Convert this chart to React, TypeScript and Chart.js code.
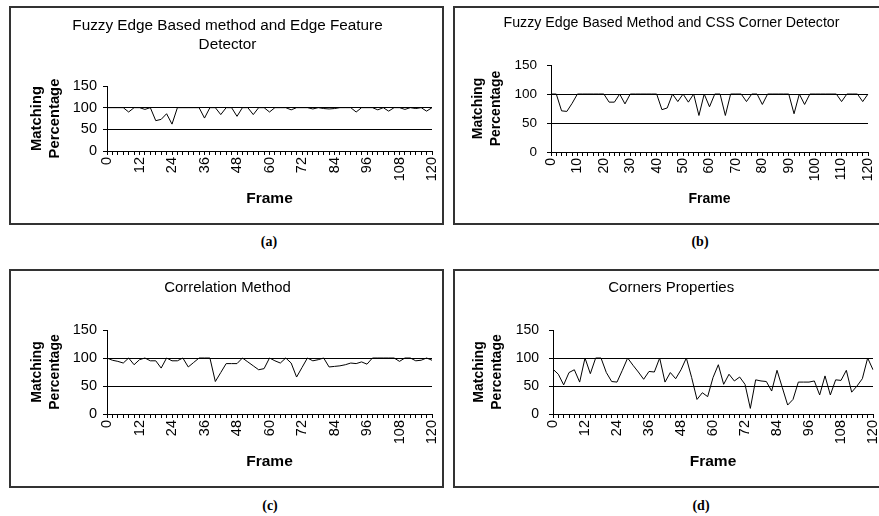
import React, { useEffect, useRef } from 'react';
import { Chart, registerables } from 'chart.js';

Chart.register(...registerables);

// Frame categories (every 2nd frame)
const frames = [
  0, 2, 4, 6, 8, 10, 12, 14, 16, 18, 20, 22, 24, 26, 28, 30, 32, 34, 36, 38,
  40, 42, 44, 46, 48, 50, 52, 54, 56, 58, 60, 62, 64, 66, 68, 70, 72, 74, 76, 78,
  80, 82, 84, 86, 88, 90, 92, 94, 96, 98, 100, 102, 104, 106, 108, 110, 112, 114, 116, 118,
  120,
];

// (a) Fuzzy Edge Based method and Edge Feature Detector
const fuzzyEdgeFeature = [
  100, 100, 100, 100, 90, 100, 100, 96, 100, 70,
  73, 86, 62, 100, 100, 100, 100, 100, 76, 100,
  100, 84, 100, 100, 80, 100, 100, 84, 100, 100,
  90, 100, 100, 100, 95, 100, 100, 100, 97, 100,
  98, 97, 98, 100, 100, 100, 90, 100, 100, 100,
  95, 100, 92, 100, 100, 96, 100, 98, 100, 92,
  100,
];

// (b) Fuzzy Edge Based Method and CSS Corner Detector
const fuzzyCssCorner = [
  100, 100, 71, 70, 84, 100, 100, 100, 100, 100,
  100, 86, 86, 100, 83, 100, 100, 100, 100, 100,
  100, 73, 76, 100, 87, 100, 86, 100, 63, 100,
  78, 100, 100, 63, 100, 100, 100, 87, 100, 100,
  82, 100, 100, 100, 100, 100, 66, 100, 82, 100,
  100, 100, 100, 100, 100, 87, 100, 100, 100, 87,
  100,
];

// (c) Correlation Method
const correlationMethod = [
  100, 96, 94, 91, 100, 88, 97, 100, 95, 95,
  82, 100, 95, 95, 100, 84, 92, 100, 100, 100,
  58, 74, 90, 90, 90, 100, 93, 86, 79, 81,
  100, 95, 91, 100, 91, 66, 83, 100, 95, 97,
  100, 84, 85, 86, 88, 91, 90, 93, 89, 100,
  100, 100, 100, 100, 94, 100, 100, 95, 96, 100,
  96,
];

// (d) Corners Properties
const cornersProperties = [
  80, 71, 52, 74, 79, 57, 100, 72, 100, 100,
  74, 58, 57, 78, 100, 87, 75, 62, 76, 75,
  100, 57, 74, 63, 79, 100, 65, 26, 38, 31,
  65, 88, 53, 71, 59, 66, 53, 10, 61, 59,
  58, 41, 78, 47, 16, 26, 57, 57, 57, 59,
  34, 68, 34, 61, 60, 78, 39, 50, 63, 100,
  79,
];

const yMin = 0;
const yMax = 150;
const yStep = 50;
const gridValues = [50, 100];
const yAxisTitle = ['Matching', 'Percentage'];
const xAxisTitle = 'Frame';

const FAMILY = '"Liberation Sans", Arial, sans-serif';

type Spec = {
  left: number;
  top: number;
  values: number[];
  title: string | string[];
  caption: string;
  capX: number;
  capY: number;
  padL: number;
  padR: number;
  yWidth: number;
  xHeight: number;
  titleSize: number;
  titleLH: number;
  titlePT: number;
  titlePB: number;
  yTitleSize: number;
  yTitleLH: number;
  yTitlePT: number;
  yTickPad: number;
  yTickSize: number;
  xTickSize: number;
  xTitleSize: number;
  xTitlePB: number;
  labelEvery: number;
};

const specs: Spec[] = [
  {
    left: 9, top: 6, values: fuzzyEdgeFeature,
    title: ['Fuzzy Edge Based method and Edge Feature', 'Detector'],
    caption: '(a)', capX: 269, capY: 242,
    padL: 12, padR: 10, yWidth: 84, xHeight: 72,
    titleSize: 15.3, titleLH: 19 / 15.3, titlePT: 8.5, titlePB: 31.5,
    yTitleSize: 14.8, yTitleLH: 18 / 14.8, yTitlePT: 5,
    yTickPad: 6, yTickSize: 14.5, xTickSize: 14.5,
    xTitleSize: 15.5, xTitlePB: 14.7, labelEvery: 12,
  },
  {
    left: 453, top: 6, values: fuzzyCssCorner,
    title: 'Fuzzy Edge Based Method and CSS Corner Detector',
    caption: '(b)', capX: 700, capY: 242,
    padL: 20, padR: 18, yWidth: 76, xHeight: 71,
    titleSize: 14.2, titleLH: 1.2, titlePT: 6.5, titlePB: 33.5,
    yTitleSize: 14, yTitleLH: 18 / 14, yTitlePT: -6,
    yTickPad: 10, yTickSize: 13.5, xTickSize: 14,
    xTitleSize: 14, xTitlePB: 15.6, labelEvery: 10,
  },
  {
    left: 9, top: 269, values: correlationMethod,
    title: 'Correlation Method',
    caption: '(c)', capX: 270, capY: 506,
    padL: 12, padR: 10, yWidth: 84, xHeight: 72,
    titleSize: 14.9, titleLH: 1.2, titlePT: 8.06, titlePB: 33.06,
    yTitleSize: 14, yTitleLH: 18 / 14, yTitlePT: 5,
    yTickPad: 6, yTickSize: 14.5, xTickSize: 14.5,
    xTitleSize: 15.5, xTitlePB: 14.7, labelEvery: 12,
  },
  {
    left: 453, top: 269, values: cornersProperties,
    title: 'Corners Properties',
    caption: '(d)', capX: 701, capY: 506,
    padL: 14.4, padR: 13, yWidth: 83.6, xHeight: 72,
    titleSize: 15, titleLH: 1.2, titlePT: 8, titlePB: 33,
    yTitleSize: 14, yTitleLH: 18 / 14, yTitlePT: 0.6,
    yTickPad: 10, yTickSize: 14, xTickSize: 14.5,
    xTitleSize: 15.5, xTitlePB: 14.7, labelEvery: 12,
  },
];

const W = 431;
const H = 215;

function Panel({ spec }: { spec: Spec }) {
  const ref = useRef<HTMLCanvasElement>(null);
  useEffect(() => {
    const chart = new Chart(ref.current as HTMLCanvasElement, {
      type: 'line',
      data: {
        labels: frames,
        datasets: [
          {
            data: spec.values,
            borderColor: '#000',
            borderWidth: 1,
            pointRadius: 0,
            fill: false,
            tension: 0,
          },
        ],
      },
      options: {
        responsive: false,
        animation: false,
        devicePixelRatio: 1,
        layout: { padding: { left: spec.padL, right: spec.padR, top: 0, bottom: 0 } },
        plugins: {
          legend: { display: false },
          tooltip: { enabled: false },
          title: {
            display: true,
            text: spec.title,
            color: '#000',
            font: { family: FAMILY, size: spec.titleSize, weight: 'normal', lineHeight: spec.titleLH },
            padding: { top: spec.titlePT, bottom: spec.titlePB },
          },
        },
        scales: {
          x: {
            type: 'category',
            offset: false,
            grid: {
              drawOnChartArea: false,
              drawTicks: true,
              tickLength: 4,
              tickColor: '#000',
              color: '#000',
              lineWidth: 1,
            },
            border: { display: true, color: '#000', width: 1 },
            ticks: {
              autoSkip: false,
              minRotation: 90,
              maxRotation: 90,
              padding: 2,
              color: '#000',
              font: { family: FAMILY, size: spec.xTickSize },
              callback: (_v: any, i: number) =>
                frames[i] % spec.labelEvery === 0 ? String(frames[i]) : '',
            },
            title: {
              display: true,
              text: xAxisTitle,
              color: '#000',
              font: { family: FAMILY, size: spec.xTitleSize, weight: 'bold', lineHeight: 1.2 },
              padding: { top: 0, bottom: spec.xTitlePB },
            },
            afterFit: (s: any) => {
              s.height = spec.xHeight;
              s.paddingLeft = 0;
              s.paddingRight = 0;
            },
          },
          y: {
            min: yMin,
            max: yMax,
            ticks: {
              stepSize: yStep,
              padding: spec.yTickPad,
              color: '#000',
              font: { family: FAMILY, size: spec.yTickSize },
            },
            grid: {
              color: (ctx: any) =>
                ctx.tick && gridValues.includes(ctx.tick.value) ? '#000' : 'rgba(0,0,0,0)',
              tickColor: '#000',
              tickLength: 4,
              lineWidth: 1,
            },
            border: { display: true, color: '#000', width: 1 },
            title: {
              display: true,
              text: yAxisTitle,
              color: '#000',
              font: { family: FAMILY, size: spec.yTitleSize, weight: 'bold', lineHeight: spec.yTitleLH },
              padding: { top: spec.yTitlePT, bottom: 0 },
            },
            afterFit: (s: any) => {
              s.width = spec.yWidth;
              s.paddingTop = 0;
              s.paddingBottom = 0;
            },
          },
        },
      } as any,
    });
    return () => chart.destroy();
  }, [spec]);

  return (
    <>
      <div
        style={{
          position: 'absolute',
          left: spec.left,
          top: spec.top,
          width: W + 4,
          height: H + 4,
          border: '2px solid #333',
          boxSizing: 'border-box',
          background: '#fff',
        }}
      >
        <canvas ref={ref} width={W} height={H} style={{ display: 'block' }} />
      </div>
      <div
        style={{
          position: 'absolute',
          left: spec.capX - 30,
          width: 60,
          top: spec.capY - 9,
          height: 18,
          lineHeight: '18px',
          textAlign: 'center',
          fontFamily: '"Liberation Serif", "Times New Roman", serif',
          fontWeight: 'bold',
          fontSize: 14,
          color: '#000',
        }}
      >
        {spec.caption}
      </div>
    </>
  );
}

export default function App() {
  return (
    <div
      style={{
        position: 'fixed',
        left: 0,
        top: 0,
        width: 879,
        height: 516,
        background: '#fff',
        overflow: 'hidden',
      }}
    >
      {specs.map((s) => (
        <Panel key={s.caption} spec={s} />
      ))}
    </div>
  );
}
